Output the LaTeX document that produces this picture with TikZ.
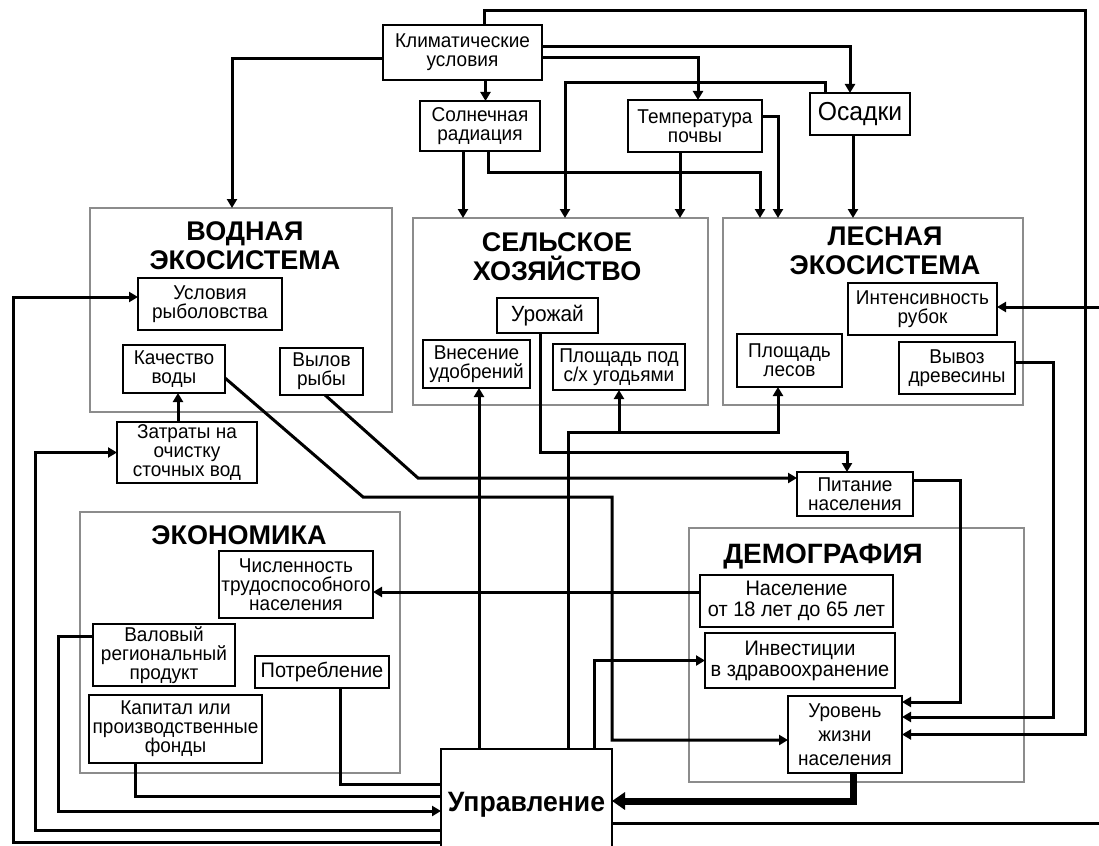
\documentclass[tikz,border=0pt]{standalone}
\usepackage{fontspec}
\setmainfont{Liberation Sans}
\newfontfamily\labfam[FakeStretch=0.95]{Liberation Sans}
\usetikzlibrary{arrows.meta,calc}
\newcommand\labfont{\labfam\fontsize{20}{19}\selectfont}
\newcommand\bx[7][]{\node[lbl,minimum width={(#5-#3)*1pt},minimum height={(#6-#4)*1pt},#1] (#2) at ({(#3+#5)/2},{(#4+#6)/2}) {#7};}
\newcommand\gbx[5]{\node[grp,minimum width={(#4-#2)*1pt},minimum height={(#5-#3)*1pt}] (#1) at ({(#2+#4)/2},{(#3+#5)/2}) {};}
\tikzset{
  lbl/.style={draw, line width=1.6pt, inner sep=0pt, outer sep=0pt, align=center, font=\labfont},
  grp/.style={draw=black!45, line width=2pt, inner sep=0pt, outer sep=0pt},
  ttl/.style={font=\bfseries\fontsize{27}{29}\selectfont, align=center, inner sep=0pt},
  ln/.style={line width=3pt},
  arr/.style={ln, -{Triangle[length=9pt,width=10pt]}},
  thickarr/.style={line width=7pt, -{Triangle[length=13pt,width=17pt]}}
}
\begin{document}
\begin{tikzpicture}[x=1pt,y=-1pt]
\useasboundingbox (0,0) rectangle (1099,845);
% group boxes
\gbx{vod}{90}{208}{392}{412}
\gbx{sel}{413}{218}{708}{405}
\gbx{les}{723}{218}{1023}{405}
\gbx{eco}{80}{512}{400}{773}
\gbx{dem}{689}{528}{1024}{782}
% titles
\node[ttl] (vodT) at (245,246) {ВОДНАЯ\\ЭКОСИСТЕМА};
\node[ttl] (selT) at (557,257) {СЕЛЬСКОЕ\\ХОЗЯЙСТВО};
\node[ttl] (lesT) at (885,251) {ЛЕСНАЯ\\ЭКОСИСТЕМА};
\node[ttl] (ecoT) at (239,535) {ЭКОНОМИКА};
\node[ttl,font=\bfseries\fontsize{28}{29}\selectfont] (demT) at (823,557) {ДЕМОГРАФИЯ};
% label boxes
\bx{klim}{383}{25}{542}{80}{Климатические\\условия}
\bx{sol}{420}{101}{540}{151}{Солнечная\\радиация}
\bx{temp}{628}{100}{762}{152}{Температура\\почвы}
\bx[font=\labfam\fontsize{26}{26}\selectfont]{osad}{810}{93}{910}{135}{Осадки}
\bx{usl}{138}{278}{282}{330}{Условия\\рыболовства}
\bx{kach}{123}{345}{225}{393}{Качество\\воды}
\bx{vyl}{280}{348}{363}{395}{Вылов\\рыбы}
\bx{zat}{117}{422}{257}{483}{Затраты на\\очистку\\сточных вод}
\bx[font=\labfam\fontsize{22}{22}\selectfont]{uro}{497}{298}{598}{333}{Урожай}
\bx{vnes}{423}{340}{530}{388}{Внесение\\удобрений}
\bx{plsh}{553}{344}{685}{390}{Площадь под\\с/х угодьями}
\bx{plles}{737}{334}{842}{387}{Площадь\\лесов}
\bx{int}{848}{283}{997}{335}{Интенсивность\\рубок}
\bx{vyv}{899}{342}{1015}{394}{Вывоз\\древесины}
\bx{pit}{797}{472}{913}{516}{Питание\\населения}
\bx{chis}{219}{551}{373}{618}{Численность\\трудоспособного\\населения}
\bx{vrp}{93}{624}{235}{686}{Валовый\\региональный\\продукт}
\bx[font=\labfam\fontsize{21}{21}\selectfont]{potr}{255}{656}{389}{688}{Потребление}
\bx{kap}{89}{695}{262}{763}{Капитал или\\производственные\\фонды}
\bx[font=\labfam\fontsize{21}{21}\selectfont]{nas}{700}{575}{893}{627}{Население\\от 18 лет до 65 лет}
\bx[font=\labfam\fontsize{21}{21}\selectfont]{inv}{705}{633}{895}{688}{Инвестиции\\в здравоохранение}
\bx[font=\labfam\fontsize{20}{24}\selectfont]{urov}{788}{696}{902}{773}{Уровень\\жизни\\населения}
\bx[font=\labfam\bfseries\fontsize{28}{28}\selectfont]{upr}{441}{749}{612}{860}{Управление}
% free ends at the picture edge
\coordinate (edgeA) at (1099,823);
\coordinate (edgeB) at (1099,307);
% connectors from climate
\draw[arr] ([xshift=21.5pt]klim.north) |- ++(0,-14) -| ([xshift=183pt]urov.east |- klim.north) |- (urov.east);
\draw[arr] ([yshift=-6pt]klim.west) -| ([xshift=-9pt]vod.north);
\draw[arr] ([xshift=23pt]klim.south) -- ([xshift=23pt]klim.south |- sol.north);
\draw[arr] ([yshift=6pt]klim.east) -| ([xshift=-10pt]osad.north);
\draw[arr] ([yshift=-5pt]klim.east) -| ([xshift=3pt]temp.north);
\draw[arr] ([xshift=-35pt]osad.north) -- ++(0,-10) -| ([xshift=4.5pt]sel.north);
\draw[arr] ([xshift=-17pt]sol.south) -- ([xshift=-17pt]sol.south |- sel.north);
\draw[arr] ([xshift=8pt]sol.south) -- ++(0,22) -| ([xshift=-113pt]les.north);
\draw[arr] ([xshift=-15pt]temp.south) -- ([xshift=-15pt]temp.south |- sel.north);
\draw[arr] ([yshift=9pt]temp.east) -| ([xshift=-95pt]les.north);
\draw[arr] ([xshift=-7pt]osad.south) -- ([xshift=-7pt]osad.south |- les.north);
% water
\draw[arr] ([xshift=-9pt]zat.north) -- ([xshift=-9pt]zat.north |- kach.south);
\draw[arr] ([yshift=-37.5pt]upr.west) -| ([xshift=-125pt,yshift=7pt]usl.west) -- ([yshift=7pt]usl.west);
\draw[arr] ([yshift=-25.5pt]upr.west) -| ([xshift=-82pt]zat.west) -- (zat.west);
% economy
\draw[arr] ([yshift=19pt]vrp.west) -- ++(-35,0) |- ([yshift=-6.5pt]upr.west);
\draw[ln] ([xshift=-40.5pt]kap.south) |- ([yshift=8.5pt]upr.west);
\draw[ln] ([xshift=18pt]potr.south) |- ([yshift=20.5pt]upr.west);
\coordinate (nasL) at ([yshift=9pt]nas.west);
\draw[arr] (nasL) -- (chis.east |- nasL);
% management upwards
\draw[arr] ([xshift=67.5pt]upr.north) |- (inv.west);
\draw[arr] ([xshift=-47.5pt]upr.north) -- ([xshift=-47.5pt]upr.north |- vnes.south);
\coordinate (jn) at ([xshift=-11.5pt,yshift=-45pt]plles.south);
\draw[arr] ([xshift=41.5pt]upr.north) |- (jn) -- ([xshift=-11.5pt]plles.south);
\draw[arr] (plsh.south |- jn) -- (plsh.south);
% food
\draw[arr] ([xshift=-7.5pt]uro.south) -- ++(0,119) -| ([xshift=-8pt]pit.north);
\coordinate (pitL) at ([yshift=16pt]pit.west);
\draw[arr] ([xshift=3.5pt]vyl.south) -- ++(93,83) -- (pitL);
\draw[arr] ([yshift=-9pt]kach.east) -- ++(138,119) -| ([xshift=-176pt,yshift=-5.5pt]urov.west) -- ([yshift=-5.5pt]urov.west);
\draw[arr] ([yshift=14pt]pit.east) -| ([xshift=58pt,yshift=32.5pt]urov.east) -- ([yshift=32.5pt]urov.east);
\draw[arr] ([yshift=6pt]vyv.east) -| ([xshift=151pt,yshift=17.5pt]urov.east) -- ([yshift=17.5pt]urov.east);
% living standard to management
\draw[thickarr] ([xshift=8pt]urov.south) |- ([yshift=3.5pt]upr.east);
\draw[ln] ([yshift=-18.5pt]upr.east) -- (edgeA);
\draw[arr] (edgeB) -- (int.east |- edgeB);
\end{tikzpicture}
\end{document}
